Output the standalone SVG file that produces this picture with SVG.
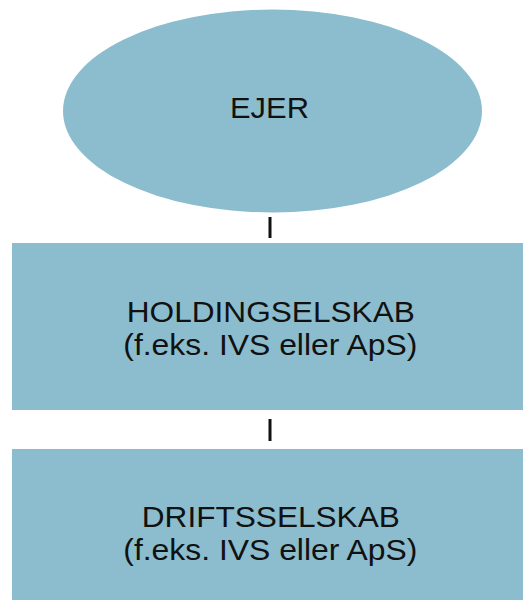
<svg xmlns="http://www.w3.org/2000/svg" width="523" height="600" viewBox="0 0 523 600">
<style>
.n{fill:#8BBDCE;}
.t{font-family:"Liberation Sans",Arial,sans-serif;font-size:29px;fill:#111;text-anchor:middle;}
.c{stroke:#111;stroke-width:3;fill:none;}
</style>
<rect width="523" height="600" fill="#fff"/>
<g id="connectors">
<line class="c" x1="270" y1="217" x2="270" y2="238"/>
<line class="c" x1="270" y1="419" x2="270" y2="441"/>
</g>
<g id="ejer">
<ellipse class="n" cx="272.5" cy="111" rx="209.5" ry="101.5"/>
<text class="t" x="269.5" y="118.3" textLength="79" lengthAdjust="spacingAndGlyphs">EJER</text>
</g>
<g id="holding">
<rect class="n" x="12" y="243" width="511" height="167"/>
<text class="t" x="270.8" y="322.3" textLength="288" lengthAdjust="spacingAndGlyphs">HOLDINGSELSKAB</text>
<text class="t" x="270.3" y="355" textLength="294" lengthAdjust="spacingAndGlyphs">(f.eks. IVS eller ApS)</text>
</g>
<g id="drift">
<rect class="n" x="12" y="449" width="511" height="151"/>
<text class="t" x="270.8" y="527.3" textLength="258" lengthAdjust="spacingAndGlyphs">DRIFTSSELSKAB</text>
<text class="t" x="270.3" y="560" textLength="294" lengthAdjust="spacingAndGlyphs">(f.eks. IVS eller ApS)</text>
</g>
</svg>
